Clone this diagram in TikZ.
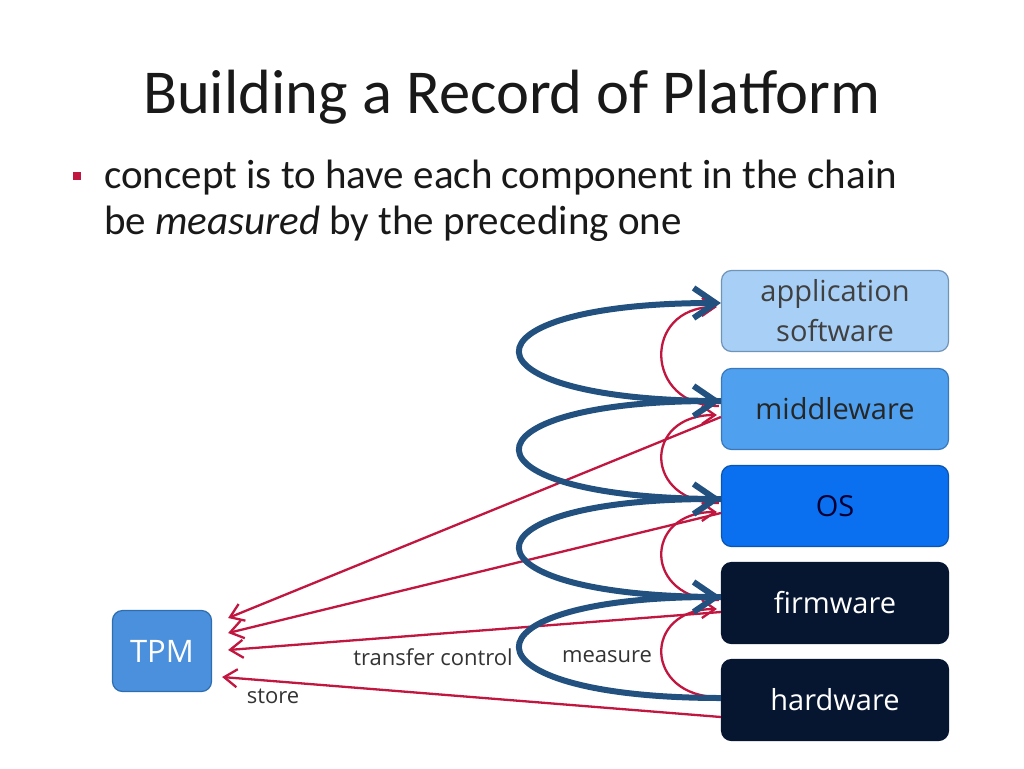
\documentclass[tikz,border=0pt]{standalone}
\usepackage{fontspec}
\setmainfont{Carlito}
\newfontfamily\diagfont{Open Sans}
\usetikzlibrary{arrows.meta,calc}
\definecolor{tcblue}{HTML}{22517F}
\definecolor{msred}{HTML}{C0163F}
\definecolor{appfill}{HTML}{A8CFF5}
\definecolor{appdraw}{HTML}{7093B8}
\definecolor{mwfill}{HTML}{4FA0EE}
\definecolor{mwdraw}{HTML}{3A78BC}
\definecolor{osfill}{HTML}{0B70EF}
\definecolor{osdraw}{HTML}{0A55B0}
\definecolor{darkfill}{HTML}{061631}
\definecolor{tpmfill}{HTML}{4A90DC}
\definecolor{tpmdraw}{HTML}{2E6DB0}
\tikzset{
  layer/.style={rounded corners=10pt, minimum width=227pt, minimum height=81pt, line width=1.2pt, align=center, font=\diagfont\fontsize{29}{31}\selectfont, inner sep=0pt},
  xfer/.style={draw=tcblue, line width=6pt, -{Straight Barb[length=22pt,width=30pt,line width=6pt]}},
  meas/.style={draw=msred, line width=2.3pt, -{Straight Barb[length=13pt,width=18pt,line width=2.3pt]}},
  lbl/.style={font=\diagfont\fontsize{22}{24}\selectfont, text=black!80, inner sep=0pt}
}
\begin{document}
\begin{tikzpicture}[x=1pt,y=-1pt]
\useasboundingbox (0,0) rectangle (1024,768);
\fill[white] (0,0) rectangle (1024,768);
% title and bullet
\node[font=\fontsize{62.5}{66}\selectfont, text=black!90, inner sep=0pt] (title) at (512,97) {Building a Record of Platform};
\fill[msred] (73,172) rectangle (81,180);
\node[anchor=west, font=\fontsize{41}{46}\selectfont, align=left, text=black!90, inner sep=0pt] (bullet) at (104,201) {concept is to have each component in the chain\\be \textit{measured} by the preceding one};
% boxes
\node[layer, fill=appfill, draw=appdraw, text=black!75] (app) at (835,311) {application\\[9pt]software};
\node[layer, fill=mwfill, draw=mwdraw, text=black!85] (mw) at (835,409) {middleware};
\node[layer, fill=osfill, draw=osdraw, text=black!80!blue] (os) at (835,506) {OS};
\node[layer, fill=darkfill, draw=darkfill, text=white] (fw) at (835,603) {firmware};
\node[layer, fill=darkfill, draw=darkfill, text=white] (hw) at (835,700) {hardware};
\node[rounded corners=10pt, minimum width=99pt, minimum height=81pt, fill=tpmfill, draw=tpmdraw, line width=1.2pt, text=white, font=\diagfont\fontsize{31}{34}\selectfont, inner sep=0pt] (tpm) at (162,651) {TPM};
% store lines
\draw[meas] ([yshift=-8pt]mw.west) -- ([xshift=16pt,yshift=33pt]tpm.east);
\draw[meas] ([yshift=-7pt]os.west) -- ([xshift=16pt,yshift=18pt]tpm.east);
\draw[meas] ([yshift=-9pt]fw.west) -- ([xshift=16pt,yshift=1pt]tpm.east);
\draw[meas] ([yshift=-17pt]hw.west) -- ([xshift=10pt,yshift=-26pt]tpm.east);
% measure curves
\draw[meas] ([xshift=-2pt,yshift=3pt]hw.west) .. controls +(-75,0) and +(-75,0) .. ([xshift=-4pt,yshift=-6pt]fw.west);
\draw[meas] ([xshift=-2pt,yshift=3pt]fw.west) .. controls +(-75,0) and +(-75,0) .. ([xshift=-4pt,yshift=-6pt]os.west);
\draw[meas] ([xshift=-2pt,yshift=3pt]os.west) .. controls +(-75,0) and +(-75,0) .. ([xshift=-4pt,yshift=-6pt]mw.west);
\draw[meas] ([xshift=-2pt,yshift=3pt]mw.west) .. controls +(-75,0) and +(-75,0) .. ([xshift=-4pt,yshift=4pt]app.west);
% transfer control curves
\draw[xfer] ([yshift=2pt]hw.west) .. controls +(-268,0) and +(-268,0) .. ([yshift=6pt]fw.west);
\draw[xfer] ([yshift=6pt]fw.west) .. controls +(-268,0) and +(-268,0) .. ([yshift=7pt]os.west);
\draw[xfer] ([yshift=7pt]os.west) .. controls +(-268,0) and +(-268,0) .. ([yshift=8pt]mw.west);
\draw[xfer] ([yshift=8pt]mw.west) .. controls +(-268,0) and +(-268,0) .. ([yshift=8pt]app.west);
% labels
\node[lbl] (ltc) at (433,657) {transfer control};
\node[lbl] (lms) at (607,657) {measure};
\node[lbl] (lst) at (273,696) {store};
\end{tikzpicture}
\end{document}
